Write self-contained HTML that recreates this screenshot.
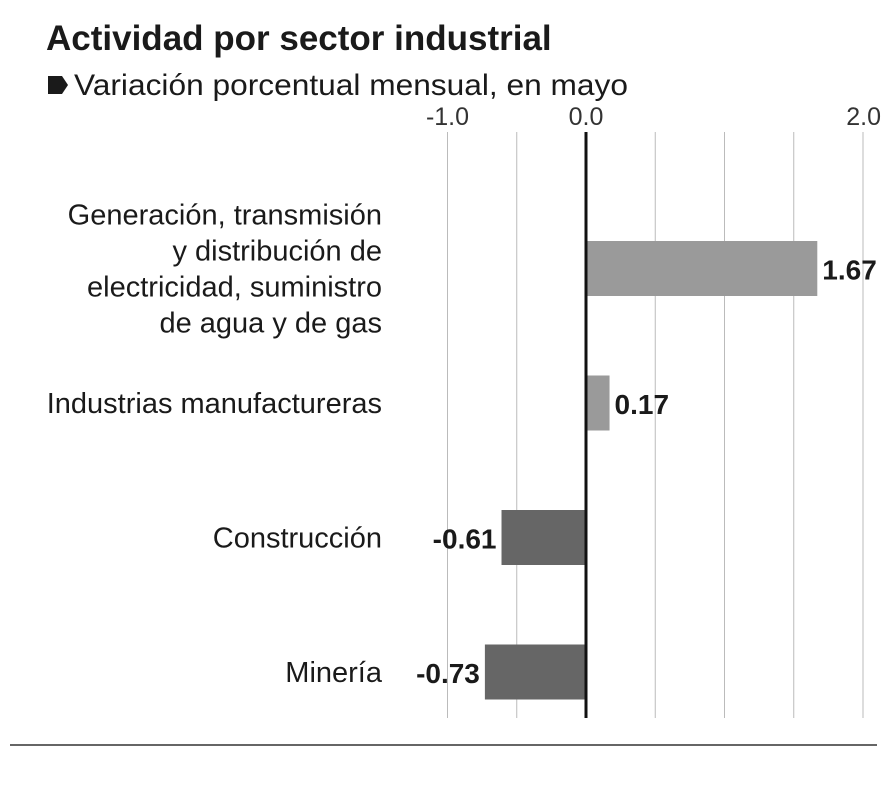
<!DOCTYPE html>
<html><head><meta charset="utf-8">
<style>
body{margin:0;background:#fff;width:893px;height:796px;overflow:hidden;font-family:"Liberation Sans",sans-serif;}
svg{display:block}
</style></head>
<body>
<svg width="893" height="796" id="chart">
<text x="46" y="50" font-size="35" font-weight="bold" fill="#1a1a1a">Actividad por sector industrial</text>
<path d="M48 76 L62 76 L68 85 L62 94 L48 94 Z" fill="#1a1a1a"/>
<text x="74" y="95" font-size="30" fill="#1a1a1a" textLength="554" lengthAdjust="spacingAndGlyphs">Variación porcentual mensual, en mayo</text>
<g id="grid"></g>
<g id="bars"></g>
<line x1="10" y1="745" x2="877" y2="745" stroke="#333" stroke-width="1.5"/>
</svg>
<script>
const categories=[["Generación, transmisión","y distribución de","electricidad, suministro","de agua y de gas"],["Industrias manufactureras"],["Construcción"],["Minería"]];
const values=[1.67,0.17,-0.61,-0.73];
const labels=["1.67","0.17","-0.61","-0.73"];
const tickLabels=["-1.0","0.0","2.0"];
const tickValues=[-1,0,2];
const gridValues=[-1,-0.5,0,0.5,1,1.5,2];
const NS="http://www.w3.org/2000/svg";
const x=v=>586+v*138.5;
const yc=i=>268.5+i*134.5;
const grid=document.getElementById('grid'),bars=document.getElementById('bars');
function mk(tag,attrs,parent){const e=document.createElementNS(NS,tag);for(const k in attrs)e.setAttribute(k,attrs[k]);parent.appendChild(e);return e;}
gridValues.forEach(v=>{if(v===0)return;const l=mk('line',{x1:x(v),x2:x(v),y1:132,y2:718,stroke:'#bbb','stroke-width':1},grid);

});
tickValues.forEach((v,i)=>{const t=mk('text',{x:x(v),y:125,'font-size':25,fill:'#333','text-anchor':v===2?'end':'middle'},grid);if(v===2)t.setAttribute('x',x(v)+18);t.textContent=tickLabels[i];

});
values.forEach((v,i)=>{const c=yc(i);
const r=mk('rect',{x:Math.min(x(0),x(v)),y:c-27.5,width:Math.abs(x(v)-x(0)),height:55,fill:v>=0?'#9a9a9a':'#666'},bars);


const t=mk('text',{x:v>=0?x(v)+5:x(v)-5,y:c+11,'font-size':28,'font-weight':'bold',fill:'#1a1a1a','text-anchor':v>=0?'start':'end'},bars);t.textContent=labels[i];


const lines=categories[i];const lh=36;const y0=c-(lines.length-1)*lh/2+10;
lines.forEach((s,j)=>{const ct=mk('text',{x:382,y:y0+j*lh,'font-size':29,fill:'#1a1a1a','text-anchor':'end'},bars);ct.textContent=s;

});
});
const ax=mk('line',{x1:586,x2:586,y1:132,y2:718,stroke:'#111','stroke-width':3},bars);


</script>
</body></html>
